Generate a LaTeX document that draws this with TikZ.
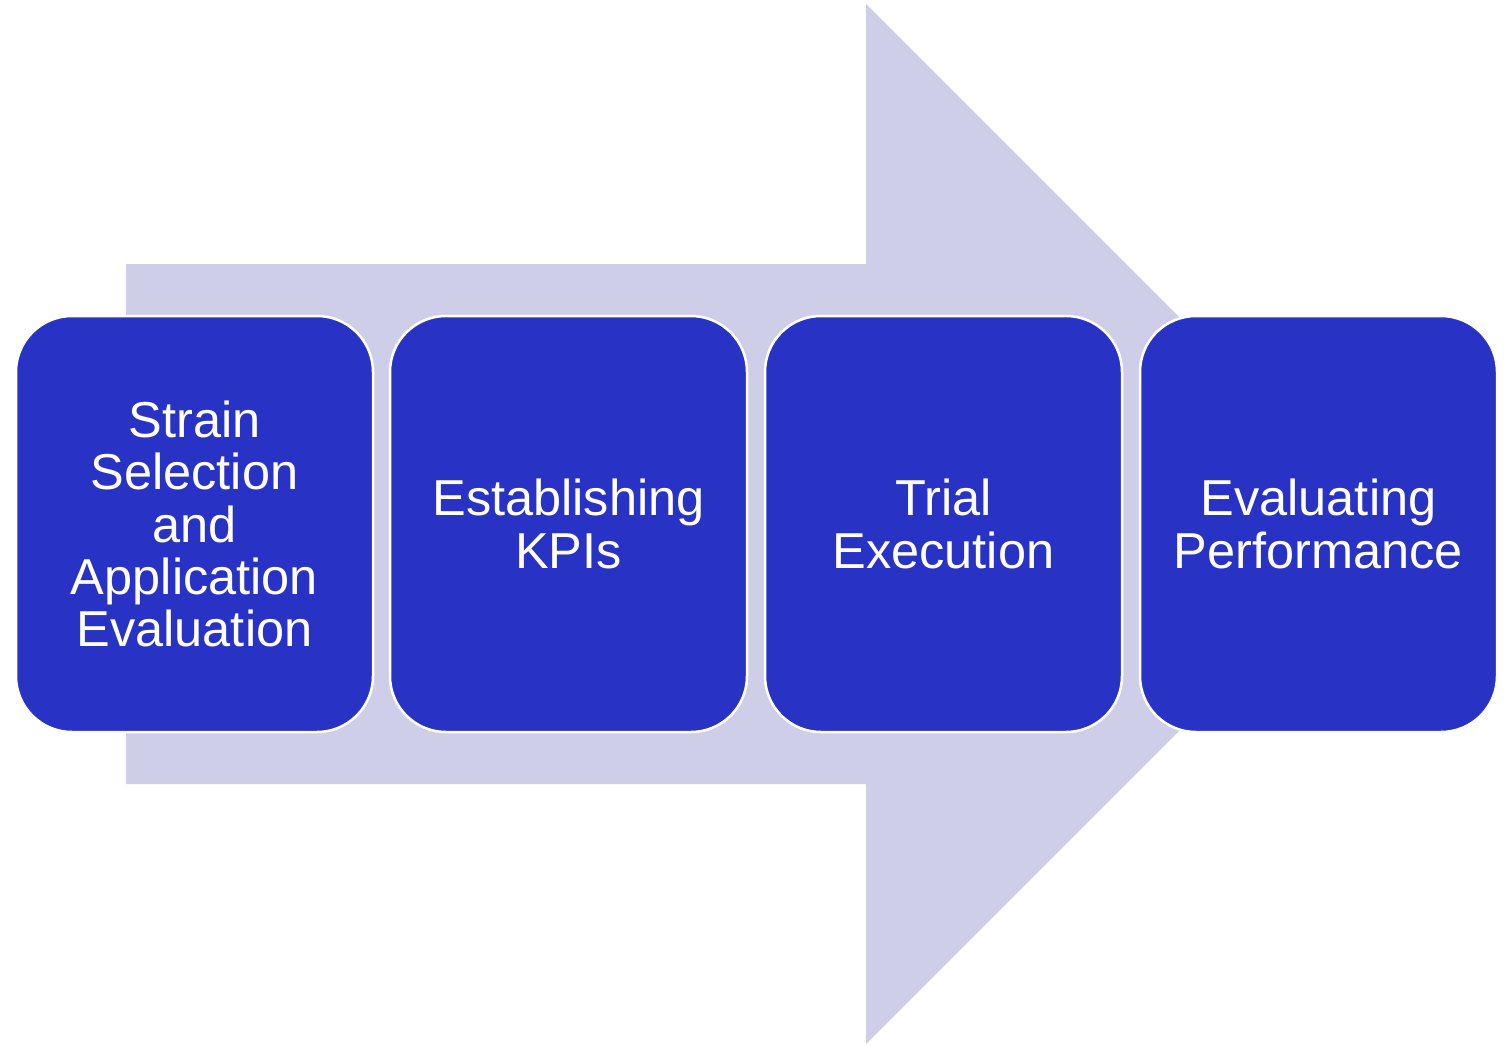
\documentclass[tikz,border=0pt]{standalone}
\usepackage{fontspec}
\setmainfont{Liberation Sans}
\definecolor{stepblue}{RGB}{40,50,196}
\definecolor{arrowlav}{RGB}{206,206,233}
\begin{document}
\begin{tikzpicture}[x=1pt,y=-1pt,
  stagebox/.style={draw=white, line width=2.5pt, fill=stepblue,
    rounded corners=56pt, minimum width=357pt, minimum height=416pt,
    text=white, align=center, text width=347pt,
    font=\fontsize{50.5pt}{52.3pt}\selectfont, inner sep=0pt}]
  \useasboundingbox (0,0) rectangle (1508,1045);
  % broad background arrow
  \fill[arrowlav] (126,264) -- (866,264) -- (866,4) -- (1386,524)
    -- (866,1044) -- (866,784) -- (126,784) -- cycle;
  % process stages
  \node[stagebox] (s1) at (194.5,524) {Strain\\Selection\\and\\Application\\Evaluation};
  \node[stagebox] (s2) at (568.5,524) {Establishing\\KPIs};
  \node[stagebox] (s3) at (943.5,524) {Trial\\Execution};
  \node[stagebox] (s4) at (1318.5,524) {Evaluating\\Performance};
\end{tikzpicture}
\end{document}
